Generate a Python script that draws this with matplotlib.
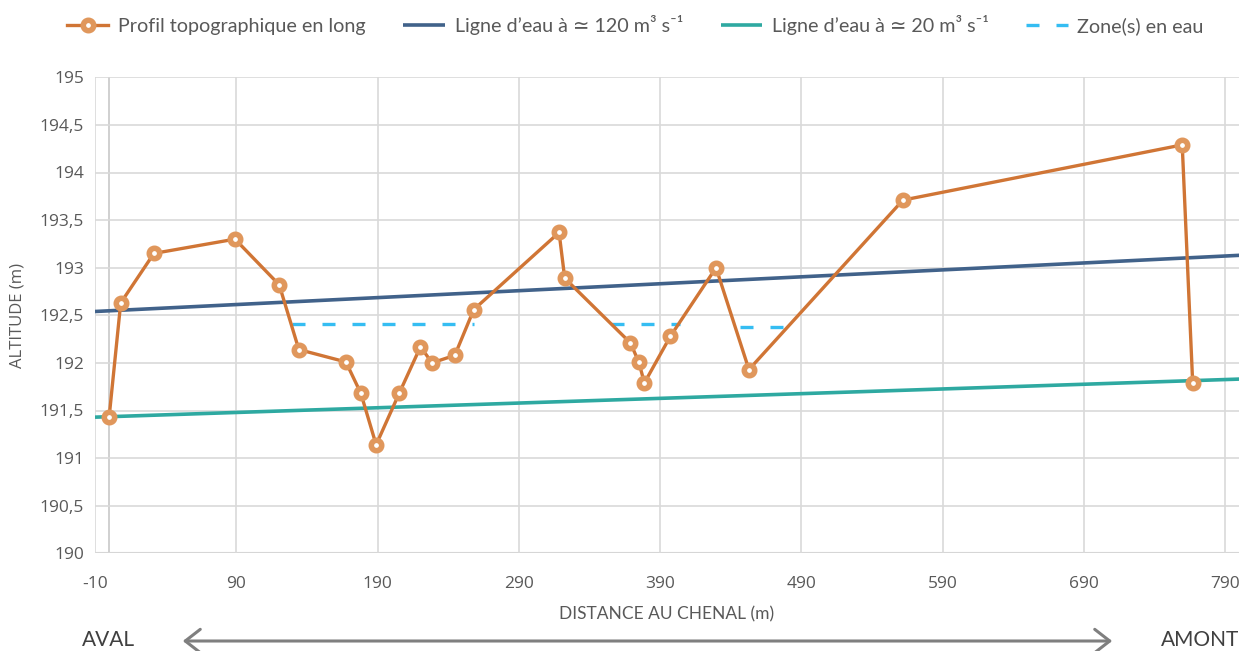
import matplotlib
matplotlib.use("Agg")
import matplotlib.pyplot as plt

plt.rcParams["axes.unicode_minus"] = False

# Profil topographique en long (distance au chenal en m, altitude en m)
distance = [0, 8.2, 31.7, 89.1, 120.4, 134.3, 167.6, 178.2, 189.0, 205.3,
            220.4, 228.6, 244.7, 258.1, 318.5, 322.5, 369.0, 374.9, 378.9,
            397.3, 429.6, 452.9, 561.9, 759.6, 767.0]
altitude = [191.43, 192.63, 193.15, 193.30, 192.82, 192.14, 192.01, 191.68,
            191.14, 191.68, 192.17, 192.00, 192.08, 192.56, 193.37, 192.89,
            192.21, 192.01, 191.79, 192.28, 193.00, 191.93, 193.71, 194.29,
            191.79]

# lignes d'eau
ligne_x = [-10, 800]
ligne_120 = [192.54, 193.13]
ligne_20 = [191.43, 191.83]

# zones en eau (debut, fin, altitude)
zones_debut = [129.6, 355.6, 446.3]
zones_fin = [258.2, 403.9, 480.3]
zones_alt = [192.41, 192.41, 192.38]

x_ticks = [-10, 90, 190, 290, 390, 490, 590, 690, 790]
y_ticks = [190, 190.5, 191, 191.5, 192, 192.5, 193, 193.5, 194, 194.5, 195]
y_labels = ["190", "190,5", "191", "191,5", "192", "192,5", "193",
            "193,5", "194", "194,5", "195"]

orange = "#D07535"
orange_mk = "#E0975C"
bleu = "#41628A"
turquoise = "#2EA9A1"
ciel = "#35BDF2"
gris = "#595959"
grille = "#D9D9D9"

fig = plt.figure(figsize=(12.52, 6.51), dpi=100)
ax = fig.add_axes([95 / 1252, 1 - 553.3 / 651, (1239.3 - 95) / 1252, (553.3 - 77.3) / 651])

ax.set_xlim(-10, 800)
ax.set_ylim(190, 195)
ax.set_xticks(x_ticks)
ax.set_yticks(y_ticks)
ax.set_yticklabels(y_labels)
ax.grid(True, color=grille, lw=1.2)
ax.set_axisbelow(True)
for s in ax.spines.values():
    s.set_visible(False)
ax.axvline(0, color="#C8C8C8", lw=1.2, zorder=0.5)
ax.axhline(190, color="#C8C8C8", lw=1.5, zorder=0.5)
ax.tick_params(length=0, colors=gris, labelsize=12.5)
ax.tick_params(axis="x", pad=16)
ax.tick_params(axis="y", pad=8)
for lab in ax.get_xticklabels() + ax.get_yticklabels():
    lab.set_family("Open Sans")

ax.plot(ligne_x, ligne_120, color=bleu, lw=2.6, solid_capstyle="butt",
        label="Ligne d\u2019eau \u00e0 \u2243 120 m\u00b3 s\u207b\u00b9")
ax.plot(ligne_x, ligne_20, color=turquoise, lw=2.6, solid_capstyle="butt",
        label="Ligne d\u2019eau \u00e0 \u2243 20 m\u00b3 s\u207b\u00b9")
for i in range(len(zones_debut)):
    ax.plot([zones_debut[i], zones_fin[i]], [zones_alt[i], zones_alt[i]],
            color=ciel, lw=2.4, dashes=(3.9, 5.1),
            label="Zone(s) en eau" if i == 0 else None)
ax.plot(distance, altitude, color=orange, lw=2.4, marker="o", ms=7.5,
        mec=orange_mk, mew=4, mfc="white", zorder=5,
        label="Profil topographique en long")

h, l = ax.get_legend_handles_labels()
ordre = [3, 0, 1, 2]
leg = fig.legend([h[i] for i in ordre], [l[i] for i in ordre],
                 loc="center left", bbox_to_anchor=(67 / 1252, 1 - 25 / 651),
                 ncol=4, frameon=False, handlelength=2.1, handletextpad=0.5,
                 columnspacing=1.9, prop={"family": ["Lato", "DejaVu Sans"], "size": 14.2},
                 labelcolor=gris, borderaxespad=0, borderpad=0)

ax.set_ylabel("ALTITUDE (m)", color=gris, fontsize=12, family="Open Sans", labelpad=10)
fig.text(667 / 1252, 1 - 614 / 651, "DISTANCE AU CHENAL (m)", color=gris,
         fontsize=12.5, family="Lato", ha="center", va="center")

fig.text(108 / 1252, 1 - 640 / 651, "AVAL", color="#404040", fontsize=15,
         family="Lato", ha="center", va="center")
fig.text(1200 / 1252, 1 - 640 / 651, "AMONT", color="#404040", fontsize=15,
         family="Lato", ha="center", va="center")
fig.add_artist(matplotlib.patches.FancyArrowPatch(
    (180 / 1252, 1 - 641 / 651), (1115 / 1252, 1 - 641 / 651),
    transform=fig.transFigure, arrowstyle="<->,head_length=0.9,head_width=0.7",
    mutation_scale=12, color="#7F7F7F", lw=2.2))

fig.savefig("out.png", dpi=100)
